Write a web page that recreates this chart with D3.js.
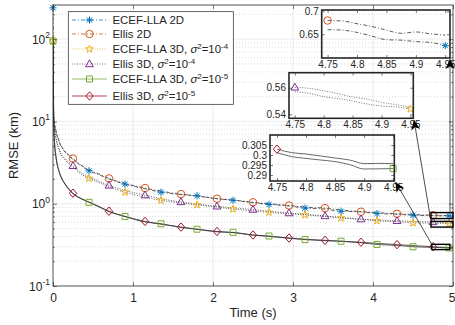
<!DOCTYPE html>
<html>
<head>
<meta charset="utf-8">
<script src="https://cdnjs.cloudflare.com/ajax/libs/d3/7.8.5/d3.min.js"></script>
<style>
  body { margin: 0; background: #fff; }
  svg { display: block; font-family: "Liberation Sans", Arial, Helvetica, sans-serif; }
</style>
</head>
<body>
<div id="chart"></div>
<script>
// ---- data ----
const time = [0, 0.01, 0.02, 0.04, 0.07, 0.1, 0.15, 0.25, 0.35, 0.45, 0.55, 0.7, 0.9, 1.15, 1.35, 1.6, 1.8,
  2.05, 2.25, 2.5, 2.7, 2.95, 3.15, 3.4, 3.6, 3.85, 4.05, 4.3, 4.5, 4.75, 4.95, 5.0];

const ecef2d = [240, 11, 9.2, 7.4, 5.9, 5.0, 4.25, 3.45, 2.9, 2.51, 2.3, 2.0, 1.73, 1.52, 1.38, 1.29, 1.25,
  1.15, 1.10, 1.03, 0.98, 0.94, 0.885, 0.86, 0.81, 0.795, 0.76, 0.745, 0.725, 0.715, 0.71, 0.705];
const ellis2d = [100, 11.5, 9.4, 7.5, 6.0, 5.1, 4.35, 3.54, 2.95, 2.6, 2.35, 2.03, 1.76, 1.55, 1.42, 1.31, 1.24,
  1.15, 1.11, 1.04, 1.0, 0.95, 0.91, 0.885, 0.84, 0.80, 0.78, 0.755, 0.74, 0.725, 0.715, 0.71];
const ecef3d4 = [95, 9.6, 8.0, 6.0, 4.7, 3.95, 3.4, 2.78, 2.3, 2.03, 1.85, 1.6, 1.38, 1.2, 1.1, 1.02, 0.97,
  0.91, 0.86, 0.82, 0.785, 0.755, 0.73, 0.70, 0.67, 0.645, 0.62, 0.605, 0.585, 0.58, 0.57, 0.565];
const ellis3d4 = [100, 10, 8.2, 6.1, 4.8, 4.05, 3.55, 2.89, 2.4, 2.12, 1.92, 1.67, 1.45, 1.27, 1.15, 1.05, 0.99,
  0.93, 0.89, 0.85, 0.81, 0.77, 0.745, 0.71, 0.68, 0.65, 0.635, 0.62, 0.61, 0.60, 0.585, 0.58];
const ecef3d5 = [95, 8.5, 5.3, 3.5, 2.55, 2.1, 1.72, 1.32, 1.15, 1.04, 0.94, 0.80, 0.70, 0.60, 0.57, 0.515, 0.49,
  0.455, 0.449, 0.415, 0.405, 0.38, 0.366, 0.355, 0.35, 0.335, 0.32, 0.312, 0.30, 0.295, 0.29, 0.288];
const ellis3d5 = [100, 9, 5.5, 3.6, 2.6, 2.15, 1.75, 1.34, 1.16, 1.05, 0.95, 0.81, 0.70, 0.61, 0.565, 0.52, 0.49,
  0.46, 0.445, 0.417, 0.40, 0.383, 0.37, 0.359, 0.35, 0.34, 0.33, 0.318, 0.31, 0.30, 0.292, 0.29];

// marker positions (times)
const ecefMarkTimes = [0, 0.45, 0.9, 1.35, 1.8, 2.25, 2.7, 3.15, 3.6, 4.05, 4.5, 4.95];
const ellisMarkTimes = [0.25, 0.7, 1.15, 1.6, 2.05, 2.5, 2.95, 3.4, 3.85, 4.3, 4.75];

const legendNames = ['ECEF-LLA 2D', 'Ellis 2D', 'ECEF-LLA 3D', 'Ellis 3D', 'ECEF-LLA 3D', 'Ellis 3D'];
const legendExps = [null, null, '-4', '-4', '-5', '-5'];

const xTicks = [0, 1, 2, 3, 4, 5];
const yTicks = [0.1, 1, 10, 100];
const yTickExps = ['-1', '0', '1', '2'];

// zoomed insets
const insetTime = [4.75, 4.775, 4.8, 4.825, 4.85, 4.875, 4.9, 4.925, 4.95];
const insetXTicks = [4.75, 4.8, 4.85, 4.9, 4.95];
const zoomEllis2d = [0.680, 0.679, 0.673, 0.667, 0.659, 0.652, 0.655, 0.651, 0.648];
const zoomEcef2d = [0.660, 0.659, 0.654, 0.646, 0.638, 0.637, 0.634, 0.632, 0.625];
const zoomEllis3d4 = [0.5603, 0.5595, 0.5577, 0.5555, 0.5530, 0.5515, 0.5490, 0.5473, 0.5452];
const zoomEcef3d4 = [0.5570, 0.5558, 0.5533, 0.5518, 0.5500, 0.5478, 0.5462, 0.5456, 0.5440];
const zoomEllis3d5 = [0.3029, 0.3012, 0.3005, 0.2995, 0.2985, 0.2975, 0.2957, 0.2958, 0.2957];
const zoomEcef3d5 = [0.3012, 0.2992, 0.2983, 0.2975, 0.2967, 0.2952, 0.2930, 0.2931, 0.2932];

// ---- layout ----
const width = 455, height = 325;
const margin = { top: 5, right: 2, bottom: 39, left: 53 };
const ink = '#262626';

const svg = d3.select('#chart').append('svg')
  .attr('width', width)
  .attr('height', height);

const x = d3.scaleLinear().domain([0, 5]).range([margin.left, width - margin.right]);
const y = d3.scaleLog().domain([0.1, 260]).range([height - margin.bottom, margin.top]);

const x0 = x.range()[0], x1 = x.range()[1], yb = y.range()[0], yt = y.range()[1];

// grid
const minorY = [];
[0.1, 1, 10, 100].forEach(d => { for (let k = 2; k <= 9; k++) { if (d * k < 260) minorY.push(d * k); } });

const grid = svg.append('g');
grid.selectAll('.gx').data([1, 2, 3, 4]).enter().append('line')
  .attr('x1', d => x(d)).attr('x2', d => x(d)).attr('y1', yt).attr('y2', yb)
  .attr('stroke', '#dedede').attr('stroke-width', 0.6);
grid.selectAll('.gy').data([1, 10, 100]).enter().append('line')
  .attr('x1', x0).attr('x2', x1).attr('y1', d => y(d)).attr('y2', d => y(d))
  .attr('stroke', '#dedede').attr('stroke-width', 0.6);
grid.selectAll('.gm').data(minorY).enter().append('line')
  .attr('x1', x0).attr('x2', x1).attr('y1', d => y(d)).attr('y2', d => y(d))
  .attr('stroke', '#c4c4c4').attr('stroke-width', 0.6).attr('stroke-dasharray', '1,2');

// marker shapes
function markerPath(type) {
  if (type === 'asterisk') {
    const s = 3.6, a = 2.6;
    return `M0,${-s}L0,${s}M${-s},0L${s},0M${-a},${-a}L${a},${a}M${-a},${a}L${a},${-a}`;
  }
  if (type === 'circle') return d3.symbol(d3.symbolCircle, 44)();
  if (type === 'square') return 'M-3,-3h6v6h-6Z';
  if (type === 'diamond') return 'M0,-4.2L3.7,0L0,4.2L-3.7,0Z';
  if (type === 'triangle') return 'M0,-4.1L3.9,2.7L-3.9,2.7Z';
  if (type === 'star') {
    let p = '';
    for (let i = 0; i < 10; i++) {
      const r = i % 2 ? 1.6 : 4.0;
      const ang = -Math.PI / 2 + i * Math.PI / 5;
      p += (i ? 'L' : 'M') + (r * Math.cos(ang)).toFixed(2) + ',' + (r * Math.sin(ang)).toFixed(2);
    }
    return p + 'Z';
  }
}

const series = [
  { values: ecef2d, color: '#0072BD', dash: '4,2,1,2', marker: 'asterisk', marks: ecefMarkTimes },
  { values: ellis2d, color: '#D95319', dash: '4,2,1,2', marker: 'circle', marks: ellisMarkTimes },
  { values: ecef3d4, color: '#EDB120', dash: '1,1.5', marker: 'star', marks: ecefMarkTimes },
  { values: ellis3d4, color: '#7E2F8E', dash: '1,1.5', marker: 'triangle', marks: ellisMarkTimes },
  { values: ecef3d5, color: '#77AC30', dash: null, marker: 'square', marks: ecefMarkTimes },
  { values: ellis3d5, color: '#A2142F', dash: null, marker: 'diamond', marks: ellisMarkTimes }
];

const line = d3.line()
  .x((d, i) => x(time[i]))
  .y(d => y(d))
  .curve(d3.curveMonotoneX);

svg.append('clipPath').attr('id', 'mainclip').append('rect')
  .attr('x', x0).attr('y', yt).attr('width', x1 - x0).attr('height', yb - yt);

const plot = svg.append('g').attr('clip-path', 'url(#mainclip)');

series.forEach(s => {
  plot.append('path')
    .datum(s.values)
    .attr('fill', 'none')
    .attr('stroke', '#2b2b2b')
    .attr('stroke-width', 0.75)
    .attr('stroke-dasharray', s.dash)
    .attr('d', line);
});

const markLayer = svg.append('g');
series.forEach(s => {
  const idx = s.marks.map(t => time.indexOf(t));
  markLayer.selectAll(null)
    .data(idx)
    .enter().append('path')
    .attr('transform', i => `translate(${x(time[i])},${y(s.values[i])})`)
    .attr('d', markerPath(s.marker))
    .attr('fill', 'none')
    .attr('stroke', s.color)
    .attr('stroke-width', 1);
});

// axes
function styleAxis(g) {
  g.select('.domain').remove();
  g.selectAll('.tick line').attr('stroke', ink).attr('stroke-width', 0.6);
  g.selectAll('text').attr('fill', ink).attr('font-family', null);
}

svg.append('g')
  .attr('transform', `translate(0,${yb})`)
  .call(d3.axisBottom(x).tickValues(xTicks).tickSize(-4).tickSizeOuter(0).tickPadding(7.5).tickFormat(d3.format('d')))
  .call(styleAxis)
  .selectAll('text').attr('font-size', 12)
  .attr('dx', d => d === 5 ? -1.5 : 0);
svg.append('g')
  .attr('transform', `translate(0,${yt})`)
  .call(d3.axisTop(x).tickValues(xTicks).tickSize(-4).tickSizeOuter(0).tickFormat(''))
  .call(styleAxis);
svg.append('g')
  .attr('transform', `translate(${x0},0)`)
  .call(d3.axisLeft(y).tickValues(yTicks).tickSize(-4).tickSizeOuter(0).tickFormat(''))
  .call(styleAxis);
svg.append('g')
  .attr('transform', `translate(${x0},0)`)
  .call(d3.axisLeft(y).tickValues(minorY).tickSize(-2).tickSizeOuter(0).tickFormat(''))
  .call(styleAxis);
svg.append('g')
  .attr('transform', `translate(${x1},0)`)
  .call(d3.axisRight(y).tickValues(yTicks).tickSize(-4).tickSizeOuter(0).tickFormat(''))
  .call(styleAxis);
svg.append('g')
  .attr('transform', `translate(${x1},0)`)
  .call(d3.axisRight(y).tickValues(minorY).tickSize(-2).tickSizeOuter(0).tickFormat(''))
  .call(styleAxis);

yTicks.forEach((v, i) => {
  const t = svg.append('text')
    .attr('x', x0 - 3).attr('y', y(v) + 4.5)
    .attr('text-anchor', 'end').attr('font-size', 12).attr('fill', ink);
  t.append('tspan').text('10');
  t.append('tspan').attr('dy', -5.5).attr('font-size', 8.5).text(yTickExps[i]);
});

svg.append('rect')
  .attr('x', x0).attr('y', yt).attr('width', x1 - x0).attr('height', yb - yt)
  .attr('fill', 'none').attr('stroke', ink).attr('stroke-width', 0.8);

svg.append('text')
  .attr('x', (x0 + x1) / 2).attr('y', 317)
  .attr('text-anchor', 'middle').attr('font-size', 13).attr('fill', ink)
  .text('Time (s)');
svg.append('text')
  .attr('transform', `translate(18,${(yt + yb) / 2}) rotate(-90)`)
  .attr('text-anchor', 'middle').attr('font-size', 13).attr('fill', ink)
  .text('RMSE (km)');

// zoom rectangles on the main plot
const zoomBoxes = [
  { t: [4.725, 5.0], v: [0.66, 0.78] },
  { t: [4.725, 5.0], v: [0.52, 0.61] },
  { t: [4.735, 4.96], v: [0.277, 0.321] }
];
zoomBoxes.forEach(b => {
  svg.append('rect')
    .attr('x', x(b.t[0])).attr('y', y(b.v[1]))
    .attr('width', x(b.t[1]) - x(b.t[0])).attr('height', y(b.v[0]) - y(b.v[1]))
    .attr('fill', 'none').attr('stroke', '#000').attr('stroke-width', 1.4);
});

// insets
function drawInset(cfg) {
  const ix = d3.scaleLinear().domain(cfg.xDomain).range([cfg.left, cfg.right]);
  const iy = d3.scaleLinear().domain(cfg.yDomain).range([cfg.bottom, cfg.top]);
  const g = svg.append('g');
  g.append('clipPath').attr('id', cfg.id).append('rect')
    .attr('x', cfg.left).attr('y', cfg.top)
    .attr('width', cfg.right - cfg.left).attr('height', cfg.bottom - cfg.top);
  const l = d3.line().x((d, i) => ix(insetTime[i])).y(d => iy(d)).curve(d3.curveMonotoneX);
  [cfg.upper, cfg.lower].forEach(vals => {
    g.append('path').datum(vals)
      .attr('clip-path', `url(#${cfg.id})`)
      .attr('fill', 'none').attr('stroke', cfg.lineColor).attr('stroke-width', 0.8)
      .attr('stroke-dasharray', cfg.dash).attr('d', l);
  });
  cfg.marks.forEach(m => {
    const i = insetTime.indexOf(m.t);
    g.append('path')
      .attr('transform', `translate(${ix(m.t)},${iy(m.values[i])})`)
      .attr('d', markerPath(m.type))
      .attr('fill', 'none').attr('stroke', m.color).attr('stroke-width', 1);
  });
  g.append('g').attr('transform', `translate(0,${cfg.bottom})`)
    .call(d3.axisBottom(ix).tickValues(insetXTicks).tickSize(-3).tickSizeOuter(0).tickPadding(3).tickFormat(d => String(d)))
    .call(styleAxis).selectAll('text').attr('font-size', 10);
  g.append('g').attr('transform', `translate(0,${cfg.top})`)
    .call(d3.axisTop(ix).tickValues(insetXTicks).tickSize(-3).tickSizeOuter(0).tickFormat(''))
    .call(styleAxis);
  g.append('g').attr('transform', `translate(${cfg.left},0)`)
    .call(d3.axisLeft(iy).tickValues(cfg.yTicks).tickSize(-3).tickSizeOuter(0).tickPadding(3).tickFormat(d => String(d)))
    .call(styleAxis).selectAll('text').attr('font-size', 10);
  g.append('g').attr('transform', `translate(${cfg.right},0)`)
    .call(d3.axisRight(iy).tickValues(cfg.yTicks).tickSize(-3).tickSizeOuter(0).tickFormat(''))
    .call(styleAxis);
  g.append('rect')
    .attr('x', cfg.left).attr('y', cfg.top)
    .attr('width', cfg.right - cfg.left).attr('height', cfg.bottom - cfg.top)
    .attr('fill', 'none').attr('stroke', ink).attr('stroke-width', 1.6);
}

drawInset({
  id: 'in1', left: 321.7, right: 450, top: 10, bottom: 58,
  xDomain: [4.74, 4.958], yDomain: [0.598, 0.703], yTicks: [0.65, 0.7],
  upper: zoomEllis2d, lower: zoomEcef2d, lineColor: '#333', dash: '4,2,1,2',
  marks: [{ t: 4.75, values: zoomEllis2d, type: 'circle', color: '#D95319' },
          { t: 4.95, values: zoomEcef2d, type: 'asterisk', color: '#0072BD' }]
});
drawInset({
  id: 'in2', left: 289, right: 413.3, top: 72.7, bottom: 118.3,
  xDomain: [4.74, 4.955], yDomain: [0.537, 0.5713], yTicks: [0.54, 0.56],
  upper: zoomEllis3d4, lower: zoomEcef3d4, lineColor: '#555', dash: '1,1.5',
  marks: [{ t: 4.75, values: zoomEllis3d4, type: 'triangle', color: '#7E2F8E' },
          { t: 4.95, values: zoomEcef3d4, type: 'star', color: '#EDB120' }]
});
drawInset({
  id: 'in3', left: 270, right: 394.3, top: 135, bottom: 181,
  xDomain: [4.738, 4.952], yDomain: [0.287, 0.31], yTicks: [0.29, 0.295, 0.3, 0.305],
  upper: zoomEllis3d5, lower: zoomEcef3d5, lineColor: '#444', dash: null,
  marks: [{ t: 4.75, values: zoomEllis3d5, type: 'diamond', color: '#A2142F' },
          { t: 4.95, values: zoomEcef3d5, type: 'square', color: '#77AC30' }]
});

// arrows from zoom boxes to insets
function arrow(xa, ya, xb, yb2) {
  svg.append('line').attr('x1', xa).attr('y1', ya).attr('x2', xb).attr('y2', yb2)
    .attr('stroke', '#000').attr('stroke-width', 0.7);
  const ang = Math.atan2(yb2 - ya, xb - xa) * 180 / Math.PI;
  svg.append('path')
    .attr('transform', `translate(${xb},${yb2}) rotate(${ang})`)
    .attr('d', 'M0,0L-10,-4.5L-7,0L-10,4.5Z')
    .attr('fill', '#000');
}
arrow(x(4.9625), y(0.78), 450, 59);
arrow(x(4.725), y(0.61), 414, 120);
arrow(x(4.735), y(0.321), 395.5, 182);

// legend
const legend = svg.append('g');
legend.append('rect')
  .attr('x', 68.3).attr('y', 11.7).attr('width', 165).attr('height', 92.6)
  .attr('fill', '#fff').attr('stroke', ink).attr('stroke-width', 0.7);
const rowY = [20, 34, 49, 64, 79, 96];
series.forEach((s, i) => {
  const ry = rowY[i];
  legend.append('line')
    .attr('x1', 72).attr('x2', 107).attr('y1', ry).attr('y2', ry)
    .attr('stroke', s.color).attr('stroke-width', 0.8).attr('stroke-dasharray', s.dash);
  legend.append('path')
    .attr('transform', `translate(89.5,${ry})`)
    .attr('d', markerPath(s.marker))
    .attr('fill', 'none').attr('stroke', s.color).attr('stroke-width', 1);
  const t = legend.append('text')
    .attr('x', 112.5).attr('y', ry + 4).attr('font-size', 11.4).attr('fill', ink);
  if (legendExps[i] === null) {
    t.text(legendNames[i]);
  } else {
    t.append('tspan').text(legendNames[i] + ', ');
    t.append('tspan').attr('font-style', 'italic').text('σ');
    t.append('tspan').attr('dy', -4.5).attr('font-size', 8).text('2');
    t.append('tspan').attr('dy', 4.5).text('=10');
    t.append('tspan').attr('dy', -4.5).attr('font-size', 8).text(legendExps[i]);
  }
});
</script>
</body>
</html>
